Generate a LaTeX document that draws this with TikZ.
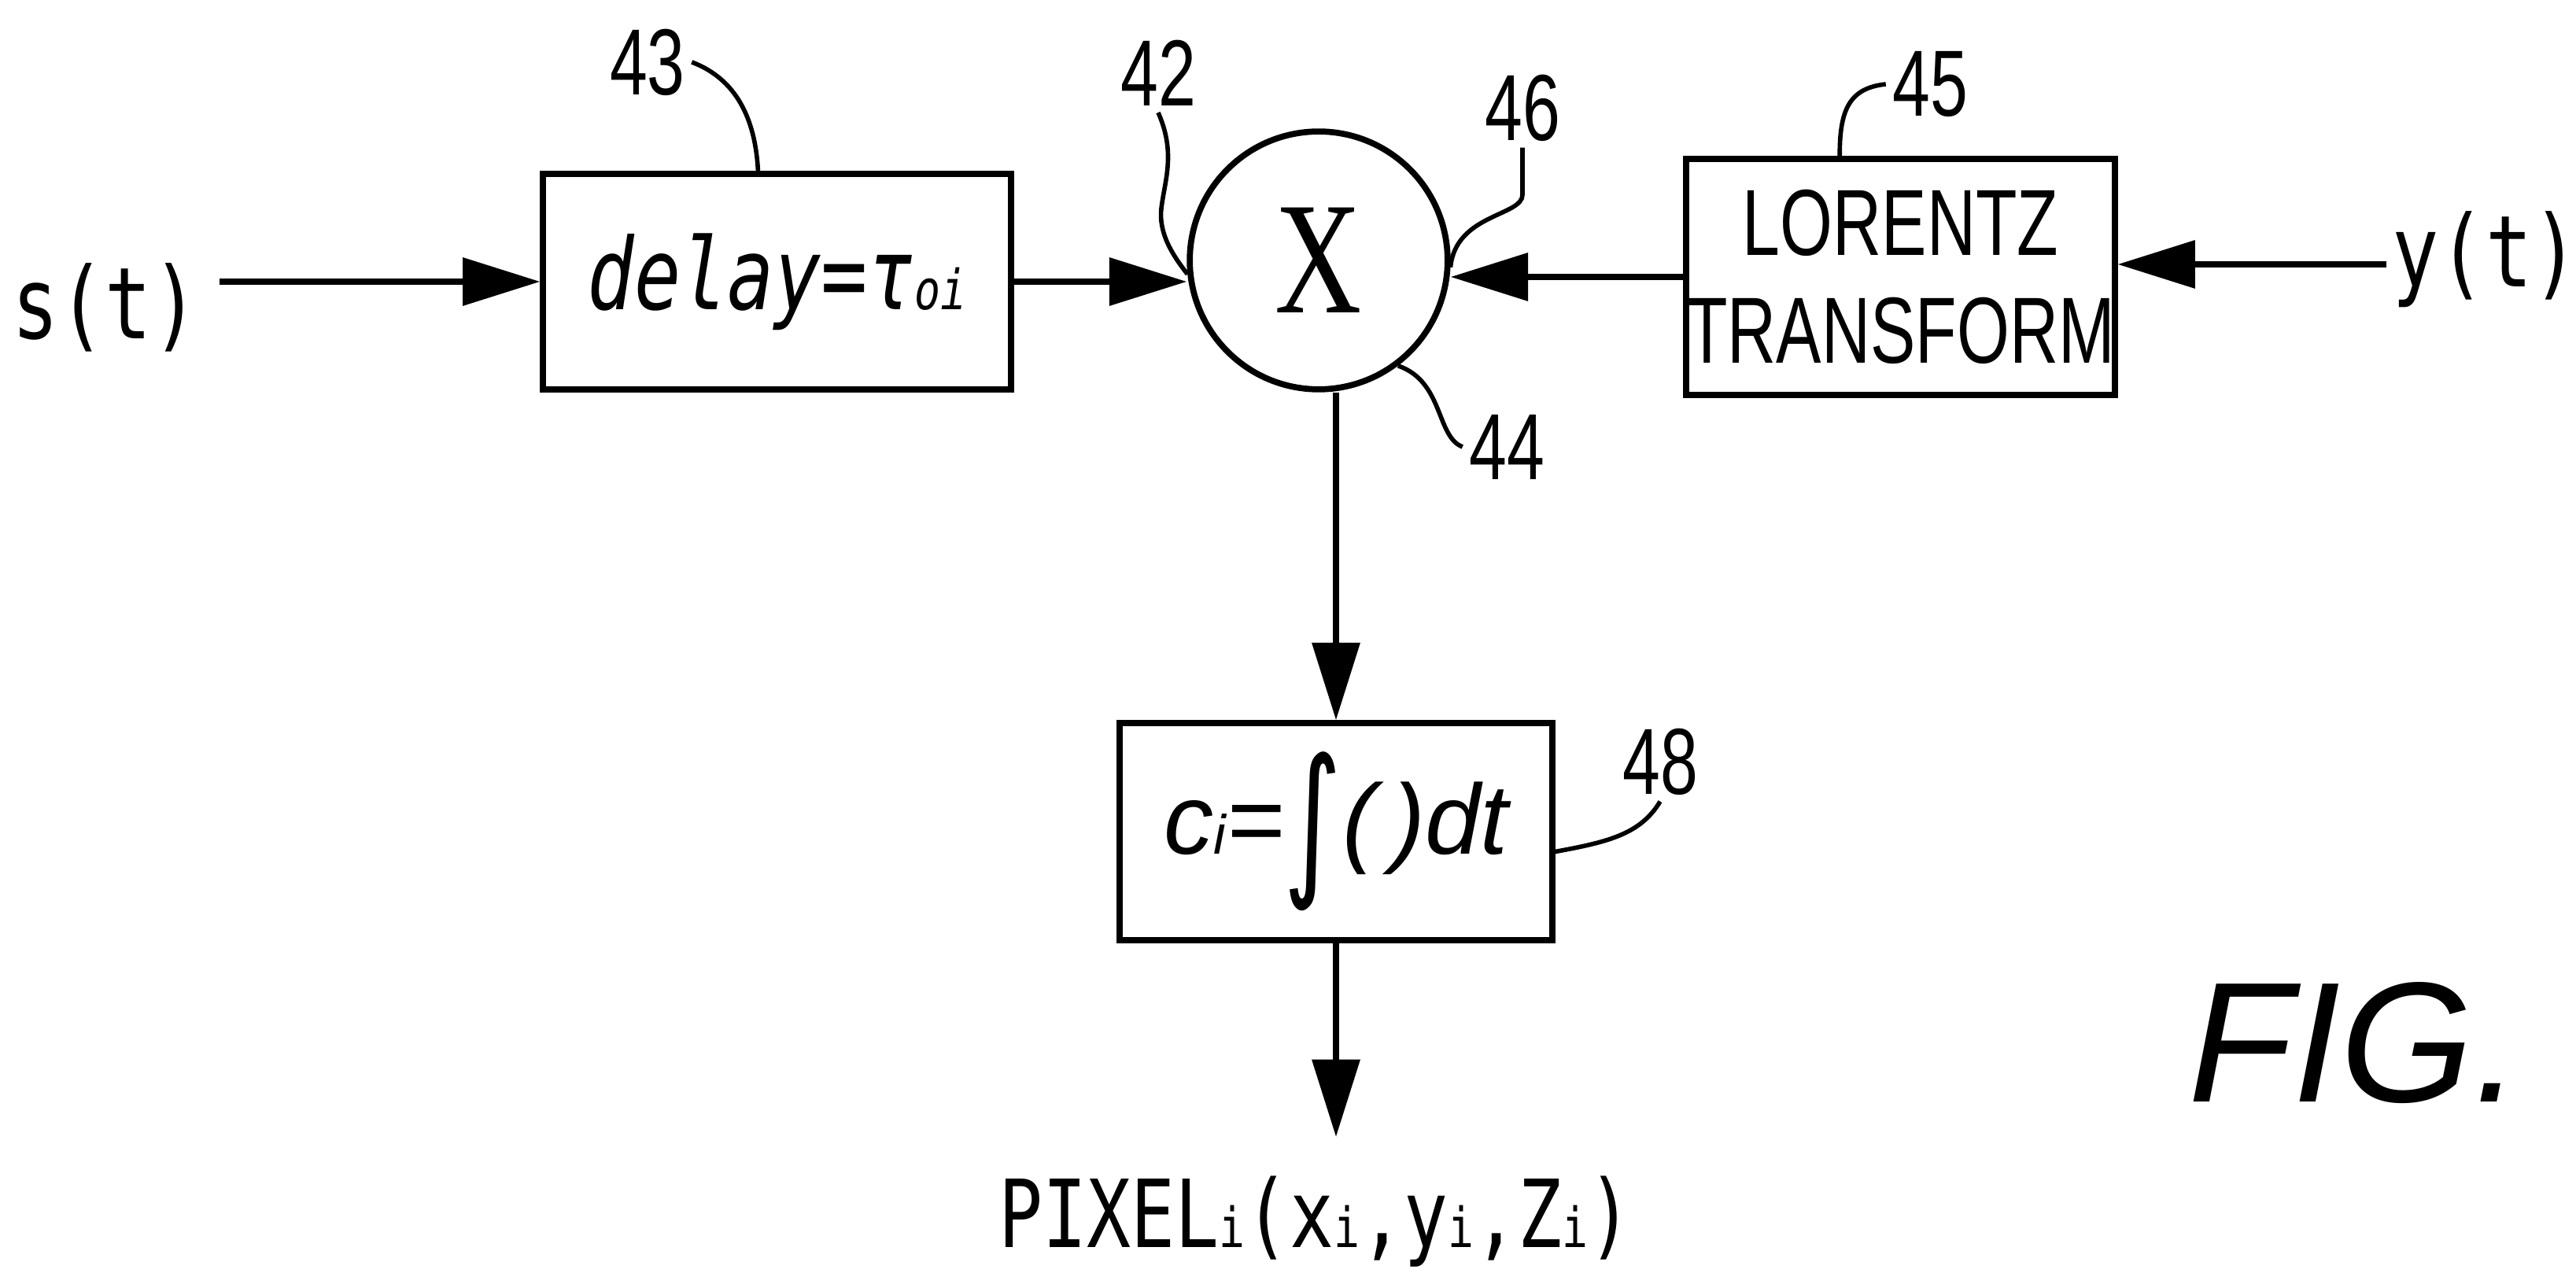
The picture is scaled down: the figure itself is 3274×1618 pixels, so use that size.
\documentclass[tikz,border=0pt]{standalone}
\usepackage{fontspec}
\setmainfont{Liberation Sans}
\newfontfamily\narrowsf[FakeStretch=0.72]{Liberation Sans}
\newfontfamily\monof[FakeStretch=0.78]{DejaVu Sans Mono}
\newfontfamily\serifX[FakeStretch=0.75]{Liberation Serif}
\newfontfamily\intf{DejaVu Sans}
\usetikzlibrary{arrows.meta,calc}
\newcommand{\pedice}[1]{{\fontsize{10}{10}\selectfont #1}}

\begin{document}
\begin{tikzpicture}[x=0.005cm,y=-0.005cm,
    blocco/.style={draw,line width=1.1pt,inner sep=0pt},
    sig/.style={line width=1.1pt,-{Triangle[length=14pt,width=8.5pt]}},
    rif/.style={line width=0.8pt},
    numero/.style={font=\narrowsf\fontsize{17}{17}\selectfont,inner sep=1pt},
    testo/.style={font=\monof\fontsize{18}{18}\selectfont}]
            \useasboundingbox (0,0) rectangle (3274,1618);

            % Ingresso s(t)
            \node[testo] (st) at (134,391) {s(t)};
            \coordinate (stout) at (279,358);

            % Blocco ritardo
            \node[blocco,minimum width=2.975cm,minimum height=1.37cm] (dly) at (987.5,358)
                {\monof\itshape\fontsize{18}{18}\selectfont delay=τ\pedice{oi}};

            % Moltiplicatore
            \node[draw,circle,line width=1.1pt,minimum size=1.64cm,inner sep=0pt] (mul) at (1676,331)
                {\serifX\fontsize{29}{29}\selectfont X};

            % Trasformata di Lorentz
            \node[blocco,minimum width=2.725cm,minimum height=1.5cm,align=center,
                font=\narrowsf\fontsize{17}{19.5}\selectfont] (lor) at (2415.5,352) {LORENTZ\\TRANSFORM};

            % Ingresso y(t)
            \node[testo] (yt) at (3159,330) {y(t)};
            \coordinate (ytout) at (3033,336);

            % Integratore
            \node[blocco,minimum width=2.75cm,minimum height=1.38cm] (integ) at (1698,1057)
                {\itshape\fontsize{18}{18}\selectfont c\pedice{i}=\raisebox{-0.22em}{\intf\fontsize{27}{27}\selectfont\scalebox{0.75}[1.1]{∫}}(\,)dt};

            % Uscita pixel
            \coordinate (pixin) at (1698,1445);
            \node[testo,font=\monof\fontsize{17}{17}\selectfont] (pix) at (1672,1553)
                {PIXEL\pedice{i}(x\pedice{i},y\pedice{i},Z\pedice{i})};

            % Numeri di riferimento
            \node[numero] (n43) at (823,79) {43};
            \node[numero] (n42) at (1472,93) {42};
            \node[numero] (n46) at (1935,137) {46};
            \node[numero] (n45) at (2453,107) {45};
            \node[numero] (n44) at (1915,568) {44};
            \node[numero] (n48) at (2110,968) {48};

            % FIG.
            \node[font=\itshape\fontsize{31}{31}\selectfont,inner sep=0pt] (fig) at (2993,1326) {FIG.};

            % Segnali
            \draw[sig] (stout) -- (dly.west);
            \draw[sig] (dly.east) -- (dly.east -| mul.west);
            \draw[sig] (lor.west) -- (lor.west -| mul.east);
            \draw[sig] (ytout) -- (ytout -| lor.east);
            \draw[sig] (mul.south -| integ.north) -- (integ.north);
            \draw[sig] (integ.south) -- (pixin);

            % Linee di richiamo
            \draw[rif] (n43.east) .. controls (935,100) and (960,150) .. ($(dly.north west)!0.46!(dly.north east)$);
            \draw[rif] (n42.south) .. controls (1495,195) and (1480,230) .. (1476,265)
                .. controls (1472,300) and (1495,330) .. (mul.186);
            \draw[rif] (n46.south) -- ++(0,60) .. controls ++(0,27) and (1850,272) .. (mul.357);
            \draw[rif] (n45.west) .. controls (2350,112) and (2338,140) .. ($(lor.north west)!0.36!(lor.north east)$);
            \draw[rif] (mul.-53) .. controls (1835,485) and (1825,555) .. (n44.west);
            \draw[rif] ($(integ.north east)!0.59!(integ.south east)$) .. controls (2045,1070) and (2085,1060) .. (n48.south);
        \end{tikzpicture}
\end{document}
